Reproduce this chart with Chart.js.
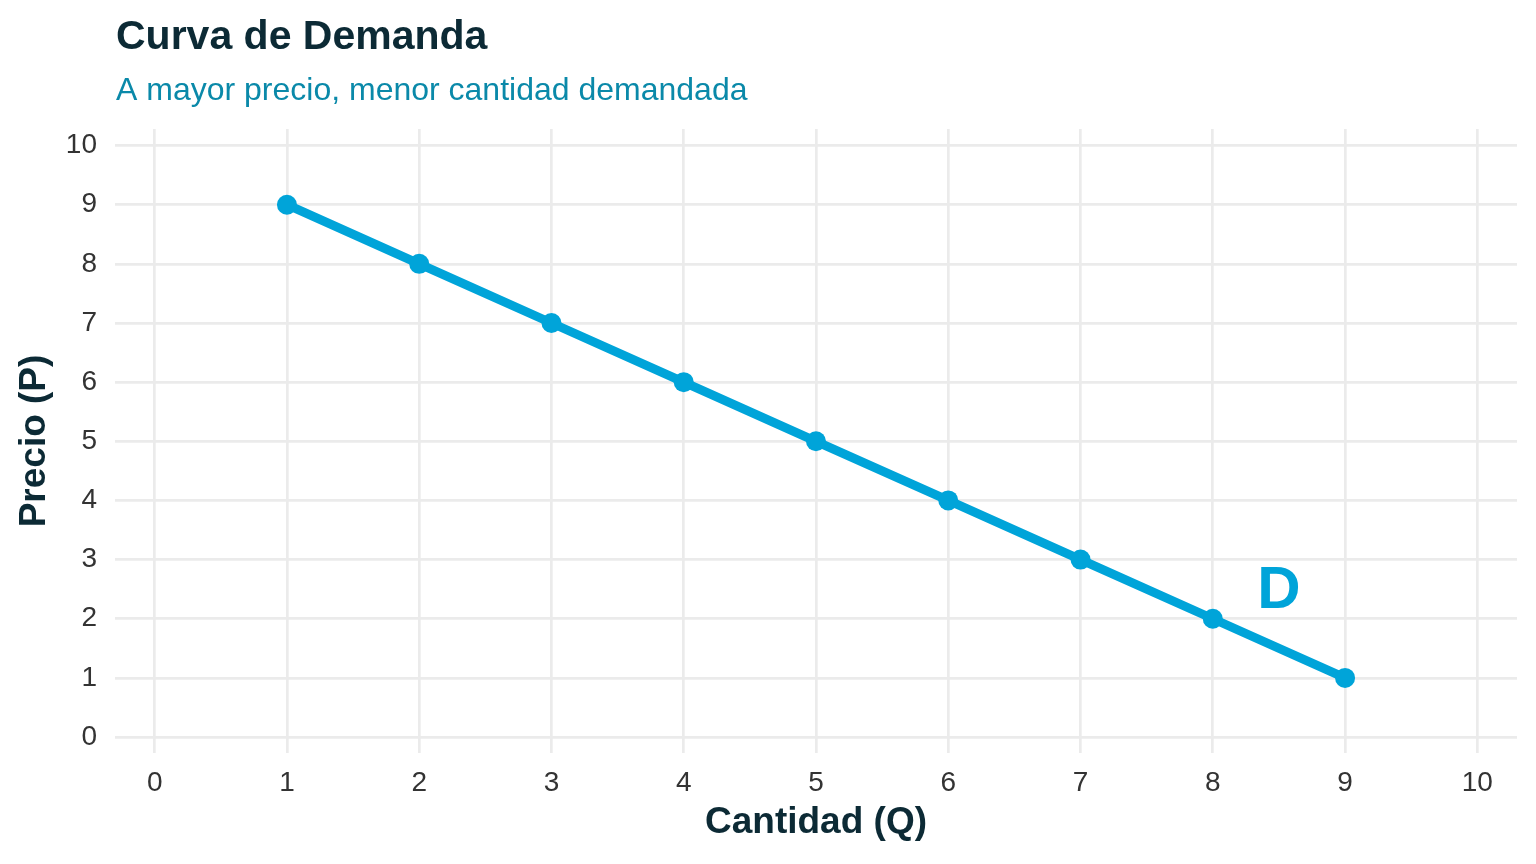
<!DOCTYPE html>
<html>
<head>
<meta charset="utf-8">
<script src="https://cdn.jsdelivr.net/npm/chart.js@4.4.1/dist/chart.umd.min.js"></script>
<style>
  html, body { margin: 0; padding: 0; background: #fff; }
  #wrap { width: 1536px; height: 864px; }
</style>
</head>
<body>
<div id="wrap"><canvas id="demanda"></canvas></div>
<script>
// Datos de la curva de demanda
const cantidad = [1, 2, 3, 4, 5, 6, 7, 8, 9];
const precio = [9, 8, 7, 6, 5, 4, 3, 2, 1];
const ticksX = [0, 1, 2, 3, 4, 5, 6, 7, 8, 9, 10];
const ticksY = [0, 1, 2, 3, 4, 5, 6, 7, 8, 9, 10];
const etiqueta = { texto: 'D', q: 8.5, p: 2.5 };

const titulo = 'Curva de Demanda';
const subtitulo = 'A mayor precio, menor cantidad demandada';

const FONT = '"Liberation Sans", Arial, Helvetica, sans-serif';
const AZUL = '#00a4d9';
const OSCURO = '#0c2a35';
const GRID = '#ebebeb';

// Título y subtítulo alineados con el área del gráfico
const titulosPlugin = {
    id: 'titulos',
    afterDraw(chart) {
        const ctx = chart.ctx;
        const x = chart.chartArea.left + 1;
        ctx.save();
        ctx.textAlign = 'left';
        ctx.textBaseline = 'alphabetic';
        ctx.fillStyle = OSCURO;
        ctx.font = 'bold 41px ' + FONT;
        ctx.fillText(titulo, x, 49);
        ctx.fillStyle = '#0a89a9';
        ctx.font = '32px ' + FONT;
        ctx.fillText(subtitulo, x, 100);
        ctx.restore();
    }
};

// Etiqueta "D" junto a la curva
const etiquetaPlugin = {
    id: 'etiquetaD',
    afterDatasetsDraw(chart) {
        const ctx = chart.ctx;
        const px = chart.scales.x.getPixelForValue(etiqueta.q);
        const py = chart.scales.y.getPixelForValue(etiqueta.p);
        ctx.save();
        ctx.fillStyle = AZUL;
        ctx.font = 'bold 60px ' + FONT;
        ctx.textAlign = 'center';
        ctx.textBaseline = 'middle';
        ctx.fillText(etiqueta.texto, px, py + 2);
        ctx.restore();
    }
};

const puntos = cantidad.map((q, i) => ({ x: q, y: precio[i] }));

new Chart(document.getElementById('demanda'), {
    type: 'line',
    data: {
        datasets: [{
            label: 'Demanda',
            data: puntos,
            borderColor: AZUL,
            backgroundColor: AZUL,
            borderWidth: 9,
            pointRadius: 10,
            pointHoverRadius: 10,
            pointBorderWidth: 0,
            tension: 0
        }]
    },
    options: {
        responsive: true,
        maintainAspectRatio: false,
        animation: false,
        devicePixelRatio: 1,
        layout: { padding: { top: 129, right: 19, bottom: 0, left: 0 } },
        plugins: {
            legend: { display: false },
            tooltip: { enabled: false }
        },
        scales: {
            x: {
                type: 'linear',
                min: -0.3,
                max: 10.3,
                afterBuildTicks: (scale) => { scale.ticks = ticksX.map(v => ({ value: v })); },
                afterFit: (scale) => { scale.height = 864 - 753; },
                grid: { color: GRID, lineWidth: 2.7, drawTicks: false },
                border: { display: false },
                ticks: {
                    padding: 13,
                    color: '#333333',
                    font: { family: FONT, size: 28 }
                },
                title: {
                    display: true,
                    text: 'Cantidad (Q)',
                    color: OSCURO,
                    font: { family: FONT, size: 37, weight: 'bold' },
                    padding: { top: 0, bottom: 19 }
                }
            },
            y: {
                type: 'linear',
                min: -0.27,
                max: 10.28,
                afterBuildTicks: (scale) => { scale.ticks = ticksY.map(v => ({ value: v })); },
                afterFit: (scale) => { scale.width = 115; },
                grid: { color: GRID, lineWidth: 2.7, drawTicks: false },
                border: { display: false },
                ticks: {
                    padding: 18,
                    color: '#333333',
                    font: { family: FONT, size: 28 }
                },
                title: {
                    display: true,
                    text: 'Precio (P)',
                    color: OSCURO,
                    font: { family: FONT, size: 37, weight: 'bold' },
                    padding: { top: 13, bottom: 0 }
                }
            }
        }
    },
    plugins: [titulosPlugin, etiquetaPlugin]
});
</script>
</body>
</html>
